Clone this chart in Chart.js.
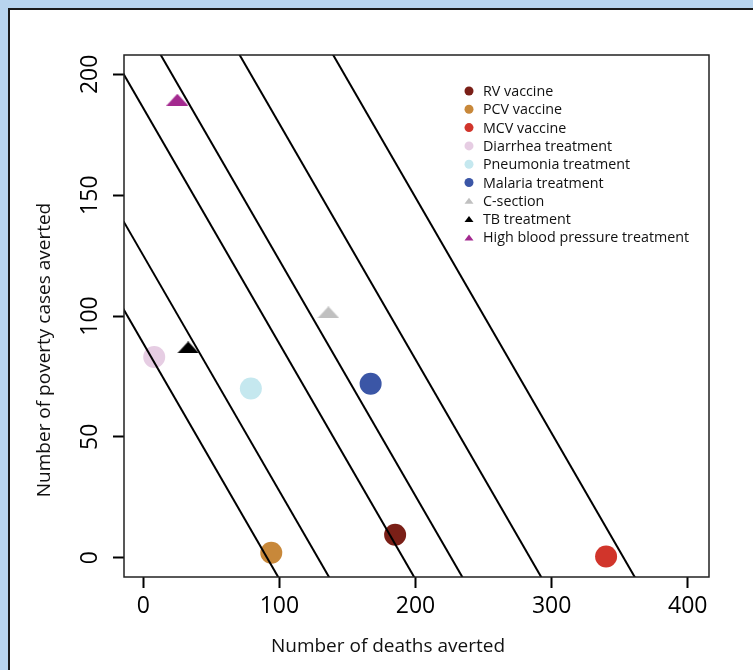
<!DOCTYPE html>
<html>
<head>
<meta charset="utf-8">
<script src="https://cdn.jsdelivr.net/npm/chart.js@4.4.0/dist/chart.umd.min.js"></script>
<style>
  html, body { margin: 0; padding: 0; background: #b8d4ee; overflow: hidden; }
  #panel { position: absolute; left: 8px; top: 8px; right: 0; bottom: 0; background: #fff;
           border-left: 2px solid #1a1a1a; border-top: 2px solid #1a1a1a; }
  #wrap { position: absolute; left: 0; top: 0; width: 753px; height: 670px; }
</style>
</head>
<body>
<div id="panel"></div>
<div id="wrap"><canvas id="chart" width="753" height="670"></canvas></div>
<script>
// interventions (one marker each)
const categories = ['RV vaccine', 'PCV vaccine', 'MCV vaccine', 'Diarrhea treatment',
  'Pneumonia treatment', 'Malaria treatment', 'C-section', 'TB treatment',
  'High blood pressure treatment'];
const deathsAverted = [185, 94, 340, 8, 79, 167, 136, 33, 25];
const povertyAverted = [9.5, 2, 0.5, 83, 70, 72, 101.5, 87, 189.5];
const markerShapes = ['circle', 'circle', 'circle', 'circle', 'circle', 'circle',
  'triangle', 'triangle', 'triangle'];
const markerColors = ['#7a1f17', '#c8883a', '#d1352b', '#e6cde3', '#c5e8ef', '#3b56a6',
  '#c0c0c0', '#000000', '#a3298f'];

// iso lines: poverty = intercept + slope * deaths
const isoIntercepts = [88.6, 125, 186, 220.5, 277, 344];
const isoSlope = -0.975;

const xTicks = [0, 100, 200, 300, 400];
const yTicks = [0, 50, 100, 150, 200];

const FONT = "'Open Sans', sans-serif";

function triangleImage(color, w, h) {
  const c = document.createElement('canvas');
  c.width = w; c.height = h;
  const g = c.getContext('2d');
  g.fillStyle = color;
  g.beginPath();
  g.moveTo(0, h);
  g.lineTo(w, h);
  g.lineTo(w / 2, 0);
  g.closePath();
  g.fill();
  return c;
}

const lineSets = isoIntercepts.map(b => ({
  type: 'line',
  data: [{ x: -40, y: b + isoSlope * -40 }, { x: (b + 40) / -isoSlope, y: -40 }],
  borderColor: '#000',
  borderWidth: 2,
  pointRadius: 0,
  fill: false,
  showLine: true
}));

const pointSets = categories.map((name, i) => ({
  label: name,
  data: [{ x: deathsAverted[i], y: povertyAverted[i] }],
  pointStyle: markerShapes[i] === 'circle' ? 'circle' : triangleImage(markerColors[i], 22, 12),
  pointRadius: 11,
  backgroundColor: markerColors[i],
  borderWidth: 0,
  shape: markerShapes[i]
}));

const framePlugin = {
  id: 'frame',
  afterDraw(chart) {
    const { ctx, chartArea: a, scales } = chart;
    ctx.save();
    ctx.strokeStyle = '#222';
    ctx.lineWidth = 1.5;
    ctx.strokeRect(a.left, a.top, a.right - a.left, a.bottom - a.top);

    // rotated y tick labels
    ctx.fillStyle = '#000';
    ctx.font = '23px ' + FONT;
    ctx.textAlign = 'center';
    ctx.textBaseline = 'middle';
    yTicks.forEach(v => {
      ctx.save();
      ctx.translate(90, scales.y.getPixelForValue(v));
      ctx.rotate(-Math.PI / 2);
      ctx.fillText(String(v), 0, 0);
      ctx.restore();
    });

    // axis titles
    ctx.font = '19px ' + FONT;
    ctx.fillStyle = '#111';
    ctx.fillText('Number of deaths averted', 388, 647);
    ctx.save();
    ctx.translate(45, 350);
    ctx.rotate(-Math.PI / 2);
    ctx.fillText('Number of poverty cases averted', 0, 0);
    ctx.restore();

    // legend
    const lx = 469, tx = 483, y0 = 91, dy = 18.3;
    ctx.font = '14.3px ' + FONT;
    ctx.textAlign = 'left';
    pointSets.forEach((ds, i) => {
      const y = y0 + i * dy;
      ctx.fillStyle = markerColors[i];
      ctx.beginPath();
      if (ds.shape === 'circle') {
        ctx.arc(lx, y, 4.5, 0, Math.PI * 2);
      } else {
        ctx.moveTo(lx - 4.5, y + 3);
        ctx.lineTo(lx + 4.5, y + 3);
        ctx.lineTo(lx, y - 3);
        ctx.closePath();
      }
      ctx.fill();
      ctx.fillStyle = '#111';
      ctx.fillText(ds.label, tx, y + 1);
    });
    ctx.restore();
  }
};

new Chart(document.getElementById('chart'), {
  type: 'scatter',
  data: { datasets: [...lineSets, ...pointSets] },
  options: {
    responsive: false,
    animation: false,
    events: [],
    layout: { padding: { top: 55, right: 44, left: 0, bottom: 0 } },
    plugins: { legend: { display: false }, tooltip: { enabled: false } },
    scales: {
      x: {
        type: 'linear',
        min: -14.2,
        max: 415.6,
        afterBuildTicks: s => { s.ticks = xTicks.map(v => ({ value: v })); },
        afterFit: s => { s.height = 93; },
        border: { display: false },
        grid: { drawOnChartArea: false, drawTicks: true, tickLength: 11, tickWidth: 2, tickColor: '#000' },
        ticks: { color: '#000', font: { family: FONT, size: 23 }, padding: 5, maxRotation: 0 }
      },
      y: {
        type: 'linear',
        min: -8,
        max: 208,
        afterBuildTicks: s => { s.ticks = yTicks.map(v => ({ value: v })); },
        afterFit: s => { s.width = 124; },
        border: { display: false },
        grid: { drawOnChartArea: false, drawTicks: true, tickLength: 11, tickWidth: 2, tickColor: '#000' },
        ticks: { display: false }
      }
    }
  },
  plugins: [framePlugin]
});
</script>
</body>
</html>
